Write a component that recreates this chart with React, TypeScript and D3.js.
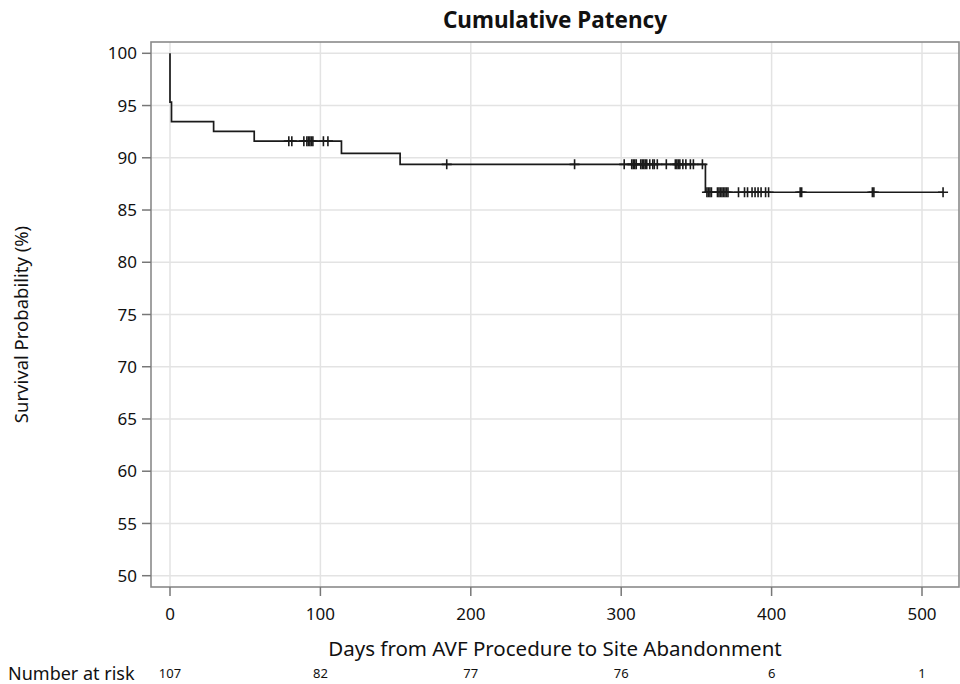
import * as d3 from "d3";

// Kaplan-Meier steps (day of event, survival % after it)
const eventDays = [0, 1, 29, 56, 114, 153, 356];
const survivalPct = [95.33, 93.46, 92.52, 91.59, 90.43, 89.37, 86.7];
const lastDay = 514;

// censored observations (days)
const censorDays = [
  79, 81, 89, 91, 92, 93, 94, 95, 102, 105,
  184, 269, 302, 307, 308, 309, 310, 313, 314, 315, 316, 317, 319, 321, 322, 324, 330,
  336, 337, 338, 339, 341, 343, 346, 348, 354,
  357, 358, 359, 360, 364, 365, 366, 367, 368, 369, 370, 371, 378,
  382, 384, 387, 389, 391, 393, 396, 398, 419, 420, 467, 468, 514,
];

const xTicks = [0, 100, 200, 300, 400, 500];
const yTicks = [50, 55, 60, 65, 70, 75, 80, 85, 90, 95, 100];
const atRiskDays = [0, 100, 200, 300, 400, 500];
const atRiskCounts = [107, 82, 77, 76, 6, 1];

const font = "'Noto Sans', 'Open Sans', sans-serif";

export default function App() {
  const width = 960;
  const height = 684;
  const frame = { left: 151, right: 959, top: 42, bottom: 587 };

  const x = d3.scaleLinear().domain([0, 500]).range([170, 922]);
  const y = d3.scaleLinear().domain([50, 100]).range([575.7, 53.3]);

  const points: [number, number][] = [[0, 100]];
  eventDays.forEach((d, i) => points.push([d, survivalPct[i]]));
  points.push([lastDay, survivalPct[survivalPct.length - 1]]);

  const line = d3.line<[number, number]>()
    .x(d => x(d[0]))
    .y(d => y(d[1]))
    .curve(d3.curveStepAfter);

  // survival level at a censored time
  function levelAt(t: number) {
    let s = 100;
    eventDays.forEach((d, i) => { if (d <= t) s = survivalPct[i]; });
    return s;
  }

  const midX = (frame.left + frame.right) / 2;

  return (
    <svg width={width} height={height} style={{ position: "absolute", left: 0, top: 0, background: "#fff" }} fontFamily={font}>
      <text x={midX} y={28} textAnchor="middle" fontSize={22.5} fontWeight="bold" fill="#111">Cumulative Patency</text>

      {/* grid */}
      {yTicks.map(t => (
        <line key={"gy" + t} x1={frame.left} x2={frame.right} y1={y(t)} y2={y(t)} stroke="#e3e3e3" strokeWidth={1.5} />
      ))}
      {xTicks.map(t => (
        <line key={"gx" + t} x1={x(t)} x2={x(t)} y1={frame.top} y2={frame.bottom} stroke="#e3e3e3" strokeWidth={1.5} />
      ))}

      {/* curve */}
      <path d={line(points) ?? ""} fill="none" stroke="#1a1a1a" strokeWidth={1.7} />
      {censorDays.map((c, i) => {
        const cx = x(c), cy = y(levelAt(c));
        return (
          <path key={"c" + i} d={`M${cx},${cy - 5}V${cy + 5}M${cx - 5},${cy}H${cx + 5}`} stroke="#1a1a1a" strokeWidth={1.6} fill="none" />
        );
      })}

      {/* frame */}
      <rect x={frame.left} y={frame.top} width={frame.right - frame.left} height={frame.bottom - frame.top} fill="none" stroke="#8a8a8a" strokeWidth={1.6} />

      {/* y axis */}
      {yTicks.map(t => (
        <g key={"ty" + t}>
          <line x1={frame.left - 9} x2={frame.left} y1={y(t)} y2={y(t)} stroke="#777" strokeWidth={1.5} />
          <text x={frame.left - 14} y={y(t)} dy="0.36em" textAnchor="end" fontSize={17} fill="#111">{t}</text>
        </g>
      ))}
      <text transform={`translate(28, ${(frame.top + frame.bottom) / 2 + 10}) rotate(-90)`} textAnchor="middle" fontSize={18.5} fill="#111">Survival Probability (%)</text>

      {/* x axis */}
      {xTicks.map(t => (
        <g key={"tx" + t}>
          <line x1={x(t)} x2={x(t)} y1={frame.bottom} y2={frame.bottom + 9} stroke="#777" strokeWidth={1.5} />
          <text x={x(t)} y={620} textAnchor="middle" fontSize={17} fill="#111">{t}</text>
        </g>
      ))}
      <text x={midX} y={656} textAnchor="middle" fontSize={20.5} fill="#111">Days from AVF Procedure to Site Abandonment</text>

      {/* number at risk */}
      <text x={8} y={680} fontSize={18} fill="#111">Number at risk</text>
      {atRiskDays.map((d, i) => (
        <text key={"r" + d} x={x(d)} y={678} textAnchor="middle" fontSize={13} fill="#111">{atRiskCounts[i]}</text>
      ))}
    </svg>
  );
}
